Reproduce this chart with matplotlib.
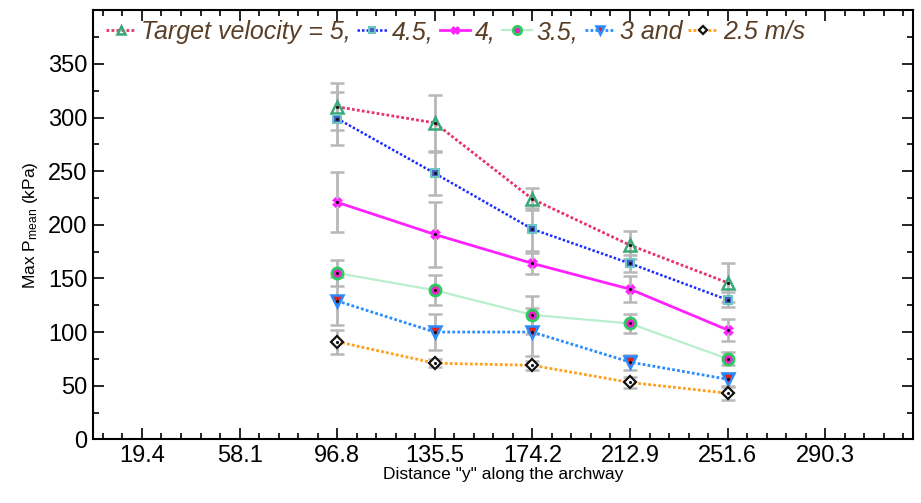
import matplotlib
matplotlib.use("Agg")
import matplotlib.pyplot as plt
from matplotlib.ticker import MultipleLocator, FixedLocator

plt.rcParams["font.family"] = ["Liberation Sans", "DejaVu Sans"]
plt.rcParams["mathtext.fontset"] = "custom"
plt.rcParams["mathtext.rm"] = "Liberation Sans"
plt.rcParams["mathtext.it"] = "Liberation Sans:italic"

# Datos
x = [96.8, 135.5, 174.2, 212.9, 251.6]
tick_pos = [19.4, 58.1, 96.8, 135.5, 174.2, 212.9, 251.6, 290.3]

y_5 = [310, 295, 224, 181, 146]
e_5 = [22, 26, 10, 13, 18]
y_45 = [299, 248, 196, 164, 130]
e_45 = [25, 20, 20, 8, 7]
y_4 = [221, 191, 164, 140, 102]
e_4 = [28, 30, 10, 12, 10]
y_35 = [155, 139, 116, 108, 75]
e_35 = [12, 14, 18, 9, 6]
y_3 = [129, 100, 100, 72, 56]
e_3 = [22, 17, 22, 7, 6]
y_25 = [91, 71, 69, 53, 43]
e_25 = [11, 4, 4, 5, 6]

labels = ["Target velocity = 5,", "4.5,", "4,", "3.5,", "3 and", "2.5 m/s"]

DOT = (0, (1, 0.8))
SERIES = [
    (y_5, e_5, dict(color="#e8336a", ls=DOT, lw=2.0, marker="^", ms=8,
                    mfc="none", mec="#3aa876", mew=1.8)),
    (y_45, e_45, dict(color="#1a2cff", ls=DOT, lw=1.8, marker="s", ms=6,
                      mfc="#4a5cc8", mec="#6cc7c0", mew=1.5)),
    (y_4, e_4, dict(color="#ff22ff", ls="-", lw=2.0, marker="X", ms=7,
                    mfc="#ff22ff", mec="#ff22ff", mew=0.5)),
    (y_35, e_35, dict(color="#b8efcc", ls="-", lw=1.6, marker="o", ms=8,
                      mfc="#ee22cc", mec="#2ecc60", mew=2.0)),
    (y_3, e_3, dict(color="#2a8cff", ls=DOT, lw=2.0, marker="v", ms=8,
                    mfc="#e0201e", mec="#2a8cff", mew=1.8)),
    (y_25, e_25, dict(color="#ff9f1a", ls=DOT, lw=2.0, marker="D", ms=6,
                      mfc="#ffffff", mec="#111111", mew=1.6)),
]

fig = plt.figure(figsize=(9.21, 5.03), dpi=100)
ax = fig.add_axes([0.101, 0.1266, 0.890, 0.853])

handles = []
for (ys, es, st), lab in zip(SERIES, labels):
    ax.errorbar(x, ys, yerr=es, fmt="none", ecolor="#b8b8b8", elinewidth=2.0,
                capsize=5, capthick=1.8, zorder=1)
    h, = ax.plot(x, ys, label=lab, zorder=3, **st)
    ax.plot(x, ys, ls="none", marker=".", ms=2.5, color="#111111", zorder=4)
    handles.append(h)

ax.set_xlim(0, 325)
ax.set_ylim(0, 400)
ax.xaxis.set_major_locator(FixedLocator(tick_pos))
ax.xaxis.set_minor_locator(FixedLocator([19.4 + 7.74 * i for i in range(-2, 40)
                                         if 0 < 19.4 + 7.74 * i < 325]))
ax.set_xticklabels([f"{t:.1f}" for t in tick_pos])
ax.yaxis.set_major_locator(FixedLocator([0, 50, 100, 150, 200, 250, 300, 350]))
ax.yaxis.set_minor_locator(MultipleLocator(25))

ax.tick_params(which="both", direction="in", top=True, right=True,
               width=1.2, labelsize=17, pad=4)
ax.tick_params(which="major", length=8)
ax.tick_params(which="minor", length=4)
for s in ax.spines.values():
    s.set_linewidth(1.5)

ax.set_xlabel('Distance "y" along the archway', fontsize=12.5, labelpad=0)
ax.set_ylabel(r"Max P$_{\mathrm{mean}}$ (kPa)", fontsize=12.5, labelpad=6)

leg = ax.legend(handles=handles, ncol=6, loc="upper left",
                bbox_to_anchor=(-0.003, 1.012), frameon=False,
                prop={"style": "italic", "size": 18},
                labelcolor="#5a3e26", handlelength=1.2, handletextpad=0.2,
                columnspacing=0.25, borderaxespad=0.2, markerscale=0.75)

fig.savefig("out.png", dpi=100, facecolor="white")
